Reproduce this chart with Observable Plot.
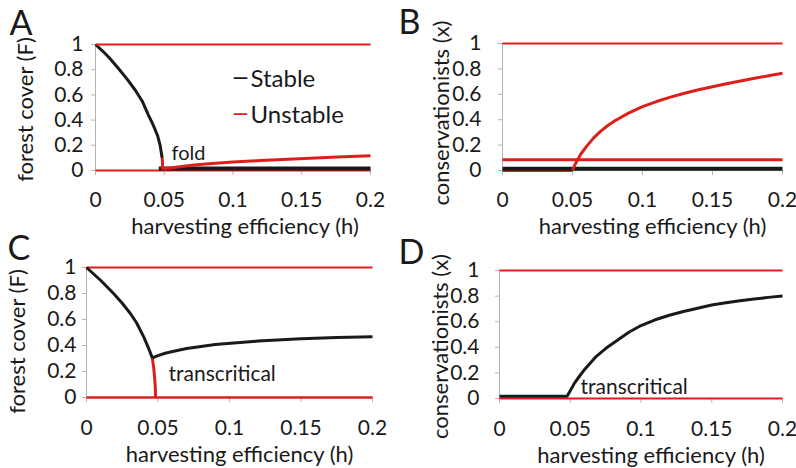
<!DOCTYPE html>
<html><head><meta charset="utf-8">
<script src="https://cdn.jsdelivr.net/npm/d3@7"></script>
<script src="https://cdn.jsdelivr.net/npm/@observablehq/plot@0.6"></script>
<style>
body{margin:0;background:#fff;}
#wrap{position:relative;width:796px;height:468px;overflow:hidden;background:#fff;}
#wrap svg{position:absolute;}
</style></head><body><div id="wrap"></div>
<script>
// ---- shared axes ----
const xTicks = [0, 0.05, 0.1, 0.15, 0.2];
const yTicks = [0, 0.2, 0.4, 0.6, 0.8, 1];
const xTitle = "harvesting efficiency (h)";
const yTitleF = "forest cover (F)";
const yTitleX = "conservationists (x)";
const legendLabels = ["Stable", "Unstable"];

// ---- Panel A (fold) ----
const aStableH = [0, 0.005, 0.01, 0.0167, 0.023, 0.0291, 0.034, 0.0385, 0.042, 0.0451, 0.047, 0.048, 0.0485];
const aStableF = [1, 0.95, 0.895, 0.81, 0.725, 0.635, 0.55, 0.44, 0.36, 0.278, 0.2, 0.13, 0.10];
const aUnstH = [0.0485, 0.0488, 0.0485, 0.05, 0.055, 0.06, 0.07, 0.08, 0.09, 0.1, 0.12, 0.14, 0.16, 0.18, 0.2];
const aUnstF = [0.10, 0.05, 0.02, 0.016, 0.02, 0.028, 0.042, 0.052, 0.06, 0.067, 0.079, 0.09, 0.1, 0.109, 0.117];
const aLowH = [0.046, 0.2];
const aLowF = [0.015, 0.015];

// ---- Panel B ----
const bCurveH = [0.05, 0.0515, 0.0533, 0.056, 0.06, 0.065, 0.07, 0.075, 0.08, 0.09, 0.1, 0.11, 0.12, 0.13, 0.14, 0.15, 0.16, 0.17, 0.18, 0.19, 0.2];
const bCurveX = [0, 0.04, 0.079, 0.13, 0.19, 0.255, 0.308, 0.352, 0.39, 0.452, 0.503, 0.543, 0.578, 0.608, 0.636, 0.66, 0.683, 0.705, 0.726, 0.746, 0.765];
const bMidH = [0, 0.2];
const bMidX = [0.084, 0.084];
const bLowH = [0, 0.2];
const bLowX = [0.013, 0.013];
const bZeroH = [0, 0.05];
const bZeroX = [0, 0];

// ---- Panel C (transcritical) ----
const cStable1H = [0, 0.005, 0.01, 0.0191, 0.025, 0.0308, 0.035, 0.0401, 0.043, 0.046];
const cStable1F = [1, 0.95, 0.9, 0.798, 0.725, 0.644, 0.575, 0.464, 0.39, 0.305];
const cStable2H = [0.046, 0.05, 0.055, 0.061, 0.07, 0.08, 0.09, 0.103, 0.12, 0.15, 0.175, 0.2];
const cStable2F = [0.305, 0.322, 0.34, 0.356, 0.377, 0.393, 0.407, 0.42, 0.434, 0.452, 0.461, 0.467];
const cUnstH = [0.046, 0.047, 0.0476, 0.0481, 0.0483];
const cUnstF = [0.305, 0.23, 0.156, 0.08, 0];

// ---- Panel D (transcritical) ----
const dStableH = [0, 0.0478, 0.05, 0.053, 0.056, 0.06, 0.0678, 0.075, 0.08, 0.0914, 0.1, 0.11, 0.12, 0.13, 0.14, 0.15, 0.16, 0.17, 0.18, 0.19, 0.2];
const dStableX = [0.018, 0.018, 0.06, 0.12, 0.166, 0.225, 0.323, 0.39, 0.43, 0.518, 0.57, 0.615, 0.65, 0.68, 0.705, 0.73, 0.748, 0.763, 0.777, 0.79, 0.8];

// full-range lines at 0 and 1
const fullH = [0, 0.2];
const oneV = [1, 1];
const zeroV = [0, 0];

const RED = "#dc1f1a", INK = "#1a1a1a", GRAY = "#b4b4b4";
const FS = 21, TFS = 22;
const pts = (hs, vs) => hs.map((h, i) => ({h, v: vs[i]}));
const ln = (hs, vs, stroke, w) => Plot.line(pts(hs, vs), {x: "h", y: "v", stroke, strokeWidth: w, strokeLinejoin: "round", strokeLinecap: "butt"});
const label = (t, o) => Plot.text([t], {text: d => d, fill: INK, fontSize: FS, lineAnchor: "middle", ...o});

function panel(p) {
  const svg = Plot.plot({
    width: 398, height: 234,
    marginTop: p.m[0], marginRight: p.m[1], marginBottom: p.m[2], marginLeft: p.m[3],
    x: {domain: [0, 0.2]},
    y: {domain: [0, 1]},
    style: {fontFamily: "Lato, sans-serif", fontSize: FS + "px", color: INK, background: "transparent", overflow: "visible"},
    marks: [
      Plot.ruleX([0], {stroke: GRAY, strokeWidth: 1}),
      Plot.ruleY([0], {stroke: GRAY, strokeWidth: 1}),
      Plot.axisX({ticks: xTicks, tickFormat: () => "", tickSize: 5, stroke: GRAY, label: null}),
      Plot.text(xTicks, {x: d => d, text: d => String(d), frameAnchor: "bottom", lineAnchor: "middle", textAnchor: "middle", dy: p.xPad, fill: INK, fontSize: FS}),
      Plot.axisY({ticks: yTicks, tickFormat: d => String(d), tickSize: 4, tickPadding: p.yPad, stroke: GRAY, fill: INK, fontSize: FS, label: null}),
      ...p.lines,
      label(p.yTitle, {frameAnchor: "left", rotate: -90, textAnchor: "middle", dx: p.yT[0], dy: p.yT[1], fontSize: TFS}),
      label(xTitle, {frameAnchor: "bottom", textAnchor: "middle", dx: p.xT[0], dy: p.xT[1], fontSize: TFS}),
      label(p.letter, {frameAnchor: "top-left", textAnchor: "start", dx: p.L[0], dy: p.L[1], fontSize: 34}),
      ...(p.extra || [])
    ]
  });
  svg.style.left = p.left + "px";
  svg.style.top = p.top + "px";
  document.getElementById("wrap").appendChild(svg);
}

panel({
  left: 0, top: 0, m: [44, 28, 64, 95], letter: "A", L: [-86, -20], yTitle: yTitleF, yT: [-70, 2], xT: [12, 56], xPad: 30, yPad: 8,
  lines: [
    ln(fullH, zeroV, RED, 2),
    ln(aLowH, aLowF, INK, 4),
    ln(aUnstH, aUnstF, RED, 3),
    ln(aStableH, aStableF, INK, 3),
    ln(fullH, oneV, RED, 2)
  ],
  extra: [
    label("—", {frameAnchor: "top-left", textAnchor: "start", dx: 137, dy: 33, fontSize: 20, fontWeight: "bold", fill: INK}),
    label(legendLabels[0], {frameAnchor: "top-left", textAnchor: "start", dx: 155, dy: 35, fontSize: 24}),
    label("—", {frameAnchor: "top-left", textAnchor: "start", dx: 137, dy: 69, fontSize: 20, fontWeight: "bold", fill: RED}),
    label(legendLabels[1], {frameAnchor: "top-left", textAnchor: "start", dx: 155, dy: 71, fontSize: 24}),
    label("fold", {frameAnchor: "top-left", textAnchor: "start", dx: 76, dy: 109, fontSize: 20})
  ]
});

panel({
  left: 398, top: 0, m: [43, 14, 64, 104], letter: "B", L: [-104, -20], yTitle: yTitleX, yT: [-61, 6], xT: [10, 56], xPad: 30, yPad: 17,
  lines: [
    ln(bZeroH, bZeroX, RED, 3),
    ln(bLowH, bLowX, INK, 4),
    ln(bMidH, bMidX, RED, 3),
    ln(bCurveH, bCurveX, RED, 3),
    ln(fullH, oneV, RED, 2)
  ]
});

panel({
  left: 0, top: 234, m: [33, 26, 71, 86], letter: "C", L: [-79, -18], yTitle: yTitleF, yT: [-69, 9], xT: [10, 57], xPad: 31, yPad: 6,
  lines: [
    ln(fullH, zeroV, RED, 2.5),
    ln(fullH, oneV, RED, 2),
    ln(cUnstH, cUnstF, RED, 3),
    ln(cStable1H, cStable1F, INK, 3),
    ln(cStable2H, cStable2F, INK, 3)
  ],
  extra: [
    label("transcritical", {frameAnchor: "top-left", textAnchor: "start", dx: 82, dy: 107})
  ]
});

panel({
  left: 398, top: 234, m: [36, 14, 70, 101], letter: "D", L: [-101, -17], yTitle: yTitleX, yT: [-59, 12], xT: [10, 57], xPad: 31, yPad: 16,
  lines: [
    ln(fullH, zeroV, RED, 2),
    ln(fullH, oneV, RED, 2),
    ln(dStableH, dStableX, INK, 3)
  ],
  extra: [
    label("transcritical", {frameAnchor: "top-left", textAnchor: "start", dx: 81, dy: 117})
  ]
});
</script></body></html>
